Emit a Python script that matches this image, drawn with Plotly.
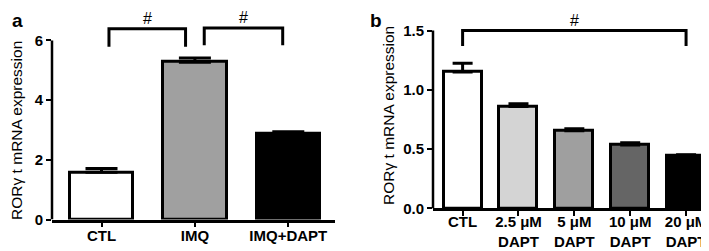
import plotly.graph_objects as go

W, H = 709, 251

# ---- data ----
cats_a = ["CTL", "IMQ", "IMQ+DAPT"]
vals_a = [1.58, 5.27, 2.88]
err_a = [0.13, 0.14, 0.06]
colors_a = ["#ffffff", "#a0a0a0", "#000000"]

cats_b = ["CTL", "2.5 μM<br>DAPT", "5 μM<br>DAPT", "10 μM<br>DAPT", "20 μM<br>DAPT"]
vals_b = [1.15, 0.86, 0.655, 0.535, 0.44]
err_b = [0.075, 0.022, 0.017, 0.018, 0.013]
colors_b = ["#ffffff", "#d4d4d4", "#9f9f9f", "#656565", "#000000"]

yticks_a = [0, 2, 4, 6]
yticks_b = [0, 0.5, 1.0, 1.5]
ytitle = "RORγ t mRNA expression"

# significance brackets: (x_left, x_right, top, bottom) in data units
brackets_a = [(0.08, 0.9, 6.39, 5.79), (1.1, 1.94, 6.42, 5.84)]
brackets_b = [(0.0, 4.0, 1.5, 1.37)]

FONT = "Arial, Liberation Sans, sans-serif"

fig = go.Figure()
fig.add_trace(go.Bar(
    x=list(range(len(cats_a))), y=vals_a, width=0.68,
    marker=dict(color=colors_a, line=dict(color="black", width=3)),
    error_y=dict(type="data", array=err_a, arrayminus=[0] * len(err_a), symmetric=False,
                 color="black", thickness=3, width=16),
    xaxis="x", yaxis="y", showlegend=False))
fig.add_trace(go.Bar(
    x=list(range(len(cats_b))), y=vals_b, width=0.68,
    marker=dict(color=colors_b, line=dict(color="black", width=3)),
    error_y=dict(type="data", array=err_b, arrayminus=[0] * len(err_b), symmetric=False,
                 color="black", thickness=3, width=10),
    xaxis="x2", yaxis="y2", showlegend=False))

def px_x(p):
    return p / W

def px_y(p):
    return (H - p) / H

tickfont = dict(family=FONT, size=15, color="black", weight="bold")
common_x = dict(showline=True, linewidth=2.5, linecolor="black", ticks="outside",
                ticklen=5, tickwidth=2, tickcolor="black", showgrid=False,
                zeroline=False, tickfont=tickfont)
common_y = dict(showline=False, ticks="outside", ticklen=5, tickwidth=2,
                tickcolor="black", showgrid=False, zeroline=False, tickfont=tickfont)

yb0 = 207.0
ya_range_top = (218.5 - 5) / (185 / 6)
yb_range_top = (yb0 - 5) / ((yb0 - 23.3) / 1.5)

fig.update_layout(
    width=W, height=H, margin=dict(l=0, r=0, t=0, b=0),
    paper_bgcolor="white", plot_bgcolor="white", bargap=0,
    xaxis=dict(domain=[px_x(44), px_x(327)], range=[-0.53, 2.5], ticklabelstandoff=-4,
               tickvals=list(range(len(cats_a))), ticktext=cats_a, anchor="y", **common_x),
    yaxis=dict(domain=[px_y(218.5), px_y(5)], range=[0, ya_range_top],
               tickvals=yticks_a, ticktext=[str(v) for v in yticks_a], anchor="x", **common_y),
    xaxis2=dict(domain=[px_x(425), px_x(706)], range=[-0.53, 4.5], ticklabelstandoff=-7,
                tickvals=list(range(len(cats_b))), ticktext=cats_b, anchor="y2", **common_x),
    yaxis2=dict(domain=[px_y(yb0), px_y(5)], range=[0, yb_range_top],
                tickvals=yticks_b, ticktext=[f"{v:.1f}" for v in yticks_b], anchor="x2", **common_y),
)

shapes = []
shapes.append(dict(type="line", xref="x domain", yref="y", x0=0, x1=0, y0=0, y1=yticks_a[-1],
                   line=dict(color="black", width=2.5)))
shapes.append(dict(type="line", xref="x2 domain", yref="y2", x0=0, x1=0, y0=0, y1=yticks_b[-1],
                   line=dict(color="black", width=2.5)))

annotations = []
for (xl, xr, top, bot), xr_, yr_ in [(b, "x", "y") for b in brackets_a] + [(b, "x2", "y2") for b in brackets_b]:
    shapes.append(dict(type="path", xref=xr_, yref=yr_,
                       path=f"M {xl},{bot} L {xl},{top} L {xr},{top} L {xr},{bot}",
                       line=dict(color="black", width=3)))
    annotations.append(dict(xref=xr_, yref=yr_, x=(xl + xr) / 2, y=top, text="#",
                            showarrow=False, yanchor="bottom", yshift=0,
                            font=dict(family=FONT, size=16, color="black")))

annotations.append(dict(xref="paper", yref="y", x=px_x(9), y=2.97, text=ytitle, textangle=-90,
                        showarrow=False, xanchor="center", yanchor="middle",
                        font=dict(family=FONT, size=15.5, color="black")))
annotations.append(dict(xref="paper", yref="y2", x=px_x(381), y=0.78, text=ytitle, textangle=-90,
                        showarrow=False, xanchor="center", yanchor="middle",
                        font=dict(family=FONT, size=15.5, color="black")))
annotations.append(dict(xref="paper", yref="paper", x=px_x(2), y=px_y(0), text="<b>a</b>",
                        showarrow=False, xanchor="left", yanchor="top",
                        font=dict(family=FONT, size=19, color="black")))
annotations.append(dict(xref="paper", yref="paper", x=px_x(360), y=px_y(0), text="<b>b</b>",
                        showarrow=False, xanchor="left", yanchor="top",
                        font=dict(family=FONT, size=19, color="black")))

fig.update_layout(shapes=shapes, annotations=annotations)
fig.write_html("out.html")
